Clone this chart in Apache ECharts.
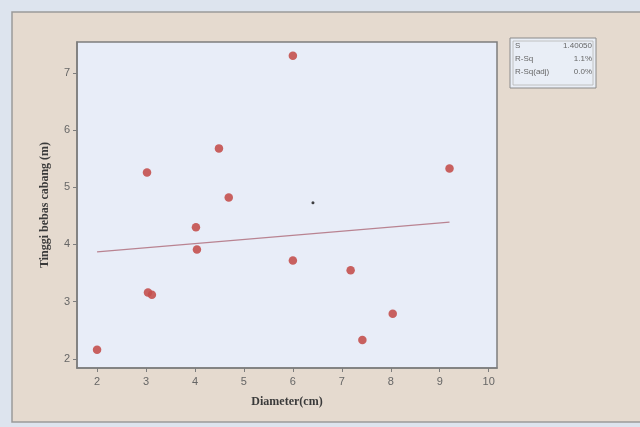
<!DOCTYPE html>
<html><head><meta charset="utf-8">
<script src="https://cdn.jsdelivr.net/npm/echarts@6/dist/echarts.min.js"></script>
<style>html,body{margin:0;padding:0;background:#dde4ee}#c{width:640px;height:427px}</style>
</head><body><div id="c"></div>
<script>
const diameter = [2.0, 3.02, 3.04, 3.12, 4.02, 4.04, 4.49, 4.69, 6.0, 6.0, 7.18, 7.42, 8.04, 9.2];
const height   = [2.16, 5.26, 3.16, 3.12, 4.30, 3.91, 5.68, 4.82, 7.30, 3.72, 3.55, 2.33, 2.79, 5.33];
const fitX = [2.0, 9.2];
const fitY = [3.87, 4.39];
const speckX = [6.41];
const speckY = [4.73];
const xTicks = [2, 3, 4, 5, 6, 7, 8, 9, 10];
const yTicks = [2, 3, 4, 5, 6, 7];
const statNames = ['S', 'R-Sq', 'R-Sq(adj)'];
const statValues = ['1.40050', '1.1%', '0.0%'];

const chart = echarts.init(document.getElementById('c'));
const statText = [];
statNames.forEach((n, i) => {
  statText.push({type:'text', left: 515, top: 42 + i*13, style:{text:n, fontSize:8, fill:'#666', fontFamily:'Liberation Sans'}});
  statText.push({type:'text', right: 48, top: 42 + i*13, style:{text:statValues[i], fontSize:8, fill:'#666', fontFamily:'Liberation Sans', align:'right'}});
});
chart.setOption({
  backgroundColor: '#dde4ee',
  animation: false,
  graphic: [
    {type:'rect', z:-10, shape:{x:12, y:12, width:640, height:410}, style:{fill:'#e5dacf', stroke:'#9a9a9a', lineWidth:1.5}},
    {type:'rect', z:-5, shape:{x:510, y:38, width:86, height:50}, style:{fill:'#e9eef6', stroke:'#8a8a8a', lineWidth:1}},
    {type:'rect', z:-4, shape:{x:513, y:41, width:80, height:44}, style:{fill:'none', stroke:'#b5b5b5', lineWidth:0.8}},
    ...statText
  ],
  grid: {left: 77, top: 42, right: 143, bottom: 59, show: true, backgroundColor: '#e8edf8', borderColor: '#7d7d7d', borderWidth: 1.5},
  xAxis: {
    type: 'value', min: 1.59, max: 10.17,
    name: 'Diameter(cm)', nameLocation: 'middle', nameGap: 28,
    nameTextStyle: {fontFamily: 'Liberation Serif', fontWeight: 'bold', fontSize: 12, color: '#3a3a3a'},
    axisLine: {show: true, lineStyle: {color: '#7d7d7d', width: 1.5}},
    axisTick: {show: true, length: 4, customValues: xTicks, lineStyle: {color: '#7d7d7d'}},
    axisLabel: {color: '#666', fontSize: 11, margin: 8, fontFamily: 'Liberation Sans', customValues: xTicks},
    splitLine: {show: false}
  },
  yAxis: {
    type: 'value', min: 1.84, max: 7.54,
    name: 'Tinggi bebas cabang (m)', nameLocation: 'middle', nameGap: 26,
    nameTextStyle: {fontFamily: 'Liberation Serif', fontWeight: 'bold', fontSize: 12, color: '#3a3a3a'},
    axisLine: {show: true, lineStyle: {color: '#7d7d7d', width: 1.5}},
    axisTick: {show: true, length: 4, customValues: yTicks, lineStyle: {color: '#7d7d7d'}},
    axisLabel: {color: '#666', fontSize: 11, margin: 7, fontFamily: 'Liberation Sans', customValues: yTicks},
    splitLine: {show: false}
  },
  series: [
    {type: 'line', data: fitX.map((x, i) => [x, fitY[i]]), showSymbol: false, symbol: 'none',
     lineStyle: {color: '#b98391', width: 1.2}, z: 2},
    {type: 'scatter', data: diameter.map((x, i) => [x, height[i]]), symbolSize: 8.5,
     itemStyle: {color: '#c4504e', opacity: 0.9}, z: 3},
    {type: 'scatter', data: speckX.map((x, i) => [x, speckY[i]]), symbolSize: 3,
     itemStyle: {color: '#111'}, z: 3}
  ]
});
</script></body></html>
